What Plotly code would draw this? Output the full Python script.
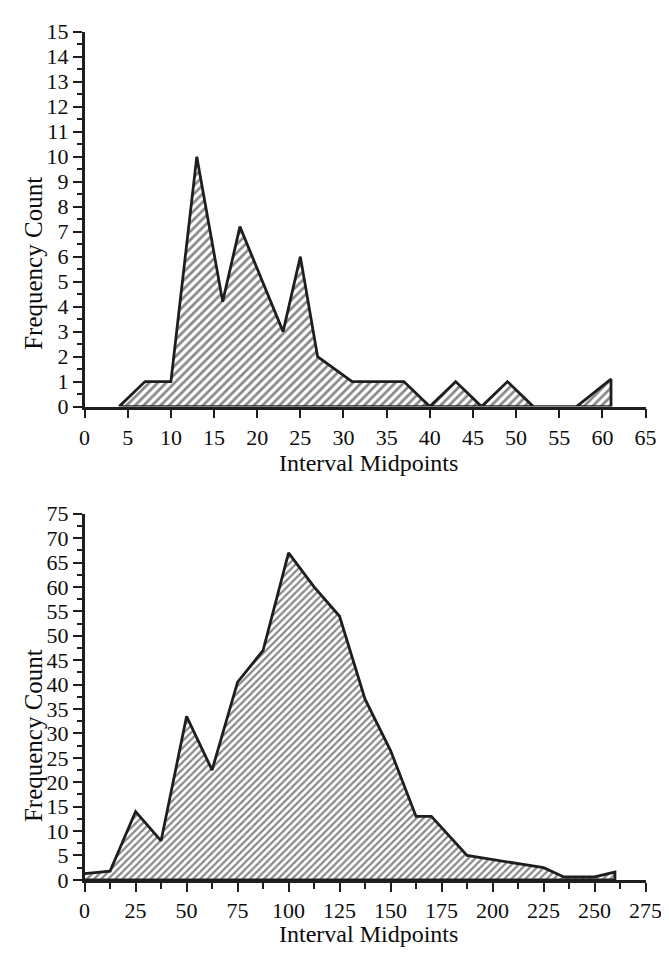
import plotly.graph_objects as go

# ---- Top chart data ----
top_mid = [4, 7, 10, 13, 16, 18, 23, 25, 27, 31, 37, 40, 43, 46, 49, 52, 57, 61, 61]
top_freq = [0, 1, 1, 10, 4.2, 7.2, 3, 6, 2, 1, 1, 0, 1, 0, 1, 0, 0, 1.1, 0]

# ---- Bottom chart data ----
bot_mid = [0, 12.5, 25, 37.5, 50, 62.5, 75, 87.5, 100, 112.5, 125, 137.5, 150,
           162.5, 170, 187.5, 225, 235, 250, 260, 260]
bot_freq = [1.3, 1.8, 14, 8, 33.5, 22.5, 40.5, 47, 67, 60, 54, 37, 26.5,
            13, 13, 5, 2.5, 0.6, 0.6, 1.6, 0]

top_xticks = list(range(0, 66, 5))
top_yticks = list(range(0, 16, 1))
bot_xticks = list(range(0, 276, 25))
bot_yticks = list(range(0, 76, 5))

W, H = 669, 955
FONT = "Liberation Serif"
INK = "#1e1e1e"
TXT = "#0d0d0d"


def px_x(p):
    return p / W


def px_y(p):
    return 1 - p / H


fig = go.Figure()

# polygon closed along the baseline (y = 0)
fig.add_trace(go.Scatter(
    x=top_mid + [top_mid[0]], y=top_freq + [0],
    mode="lines", fill="toself",
    line=dict(color=INK, width=2.8),
    fillcolor="white",
    fillpattern=dict(shape="/", fgcolor="#111111", bgcolor="white", size=6, solidity=0.45),
    xaxis="x", yaxis="y", showlegend=False, hoverinfo="skip"))

fig.add_trace(go.Scatter(
    x=bot_mid + [bot_mid[0]], y=bot_freq + [0],
    mode="lines", fill="toself",
    line=dict(color=INK, width=2.8),
    fillcolor="white",
    fillpattern=dict(shape="/", fgcolor="#111111", bgcolor="white", size=5, solidity=0.45),
    xaxis="x2", yaxis="y2", showlegend=False, hoverinfo="skip"))

x_dom = [px_x(73), px_x(653)]

common = dict(
    showgrid=False, zeroline=False, showline=True, linecolor=INK, linewidth=2.6,
    ticks="outside", tickcolor=INK, tickwidth=2.4, ticklen=9,
    tickfont=dict(family=FONT, size=22, color=TXT),
    fixedrange=True,
)

fig.update_layout(
    width=W, height=H,
    margin=dict(l=0, r=0, t=0, b=0),
    paper_bgcolor="white", plot_bgcolor="white",
    xaxis=dict(domain=x_dom, range=[0, 65], tickvals=top_xticks,
               anchor="y", **common),
    yaxis=dict(domain=[px_y(397), px_y(12)], range=[0, 15], tickvals=top_yticks,
               anchor="x",
               minor=dict(tickvals=[i + 0.5 for i in range(15)], ticks="outside",
                          ticklen=5, tickwidth=2.2, tickcolor=INK),
               **common),
    xaxis2=dict(domain=x_dom, range=[0, 275], tickvals=bot_xticks,
                anchor="y2",
                minor=dict(tickvals=[12.5 + 25 * i for i in range(11)], ticks="outside",
                           ticklen=6, tickwidth=2.2, tickcolor=INK),
                **common),
    yaxis2=dict(domain=[px_y(883), px_y(507)], range=[0, 75], tickvals=bot_yticks,
                anchor="x2",
                minor=dict(tickvals=[2.5 + 5 * i for i in range(15)], ticks="outside",
                           ticklen=5, tickwidth=2.2, tickcolor=INK),
                **common),
    annotations=[
        dict(text="Interval Midpoints", x=px_x(367), y=px_y(455), xref="paper", yref="paper",
             xanchor="center", yanchor="middle",
             showarrow=False, font=dict(family=FONT, size=24, color=TXT)),
        dict(text="Interval Midpoints", x=px_x(367), y=px_y(939), xref="paper", yref="paper",
             xanchor="center", yanchor="middle",
             showarrow=False, font=dict(family=FONT, size=24, color=TXT)),
        dict(text="Frequency Count", x=px_x(20), y=px_y(250), xref="paper", yref="paper",
             xanchor="center", yanchor="middle",
             showarrow=False, textangle=-90, font=dict(family=FONT, size=25, color=TXT)),
        dict(text="Frequency Count", x=px_x(20), y=px_y(735), xref="paper", yref="paper",
             xanchor="center", yanchor="middle",
             showarrow=False, textangle=-90, font=dict(family=FONT, size=25, color=TXT)),
    ],
)

fig.write_html("out.html")
